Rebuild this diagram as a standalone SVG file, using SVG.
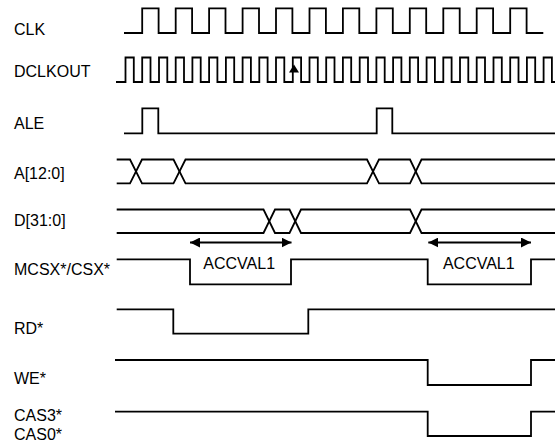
<svg xmlns="http://www.w3.org/2000/svg" width="555" height="446" viewBox="0 0 555 446">
<style>
.sig{fill:none;stroke:#000;stroke-width:1.8;stroke-linejoin:miter}
.lbl{font-family:"Liberation Sans",Arial,sans-serif;font-size:16px;fill:#000}
.dim{fill:none;stroke:#000;stroke-width:1.8}
</style>
<defs>
<marker id="ah" viewBox="0 0 10 10" refX="10" refY="5" markerWidth="10" markerHeight="10" markerUnits="userSpaceOnUse" orient="auto-start-reverse">
<path d="M0,0 L10,5 L0,10 Z" fill="#000"/>
</marker>
</defs>
<rect width="555" height="446" fill="#fff"/>
<g id="clk">
<text class="lbl" x="14" y="35">CLK</text>
<path class="sig" d="M124,33 H142.2 V8.3 H158.6 V33 H175.7 V8.3 H192.1 V33 H209.1 V8.3 H225.5 V33 H242.6 V8.3 H259 V33 H276 V8.3 H292.4 V33 H309.5 V8.3 H325.9 V33 H342.9 V8.3 H359.3 V33 H376.4 V8.3 H392.8 V33 H409.8 V8.3 H426.2 V33 H443.3 V8.3 H459.7 V33 H476.7 V8.3 H493.1 V33 H510.2 V8.3 H526.6 V33 H543.3"/>
</g>
<g id="dclkout">
<text class="lbl" x="14" y="77.3">DCLKOUT</text>
<path class="sig" d="M116,82 H125.5 V57.5 H133.8 V82 H142.2 V57.5 H150.5 V82 H159 V57.5 H167.3 V82 H175.7 V57.5 H184 V82 H192.4 V57.5 H200.7 V82 H209.1 V57.5 H217.4 V82 H225.9 V57.5 H234.2 V82 H242.6 V57.5 H250.9 V82 H259.3 V57.5 H267.6 V82 H276 V57.5 H284.3 V82 H292.8 V57.5 H301.1 V82 H309.5 V57.5 H317.8 V82 H326.2 V57.5 H334.5 V82 H342.9 V57.5 H351.2 V82 H359.7 V57.5 H368 V82 H376.4 V57.5 H384.7 V82 H393.1 V57.5 H401.4 V82 H409.8 V57.5 H418.1 V82 H426.6 V57.5 H434.9 V82 H443.3 V57.5 H451.6 V82 H460 V57.5 H468.3 V82 H476.7 V57.5 H485 V82 H493.5 V57.5 H501.8 V82 H510.2 V57.5 H518.5 V82 H526.9 V57.5 H535.2 V82 H543.6 V57.5 H551.9 V82 H556"/>
<path d="M294,64.5 L289,72.5 L299,72.5 Z" fill="#000"/>
</g>
<g id="ale">
<text class="lbl" x="14" y="129.3">ALE</text>
<path class="sig" d="M124,133.3 H142.3 V108.3 H158.3 V133.3 H376.7 V108.3 H392.3 V133.3 H556"/>
</g>
<g id="addr">
<text class="lbl" x="14" y="179">A[12:0]</text>
<path class="sig" d="M116.7,159.5 H130 L142,183.3 H173.5 L185.5,159.5 H367 L379,183.3 H410 L421.5,159.5 H556"/>
<path class="sig" d="M116.7,183.3 H130 L142,159.5 H173.5 L185.5,183.3 H367 L379,159.5 H410 L421.5,183.3 H556"/>
</g>
<g id="data">
<text class="lbl" x="14" y="226">D[31:0]</text>
<path class="sig" d="M116.7,209.5 H263.5 L275,233 H289.5 L301,209.5 H410 L421.5,233 H556"/>
<path class="sig" d="M116.7,233 H263.5 L275,209.5 H289.5 L301,233 H410 L421.5,209.5 H556"/>
</g>
<g id="mcsx">
<text class="lbl" x="14" y="275">MCSX*/CSX*</text>
<path class="sig" d="M116.7,259.3 H190 V284.3 H291 V259.3 H427.7 V284.3 H531 V259.3 H556"/>
</g>
<g id="rd">
<text class="lbl" x="14" y="333.5">RD*</text>
<path class="sig" d="M116.7,309.3 H173.3 V333.7 H308.3 V309.3 H556"/>
</g>
<g id="we">
<text class="lbl" x="14" y="384">WE*</text>
<path class="sig" d="M115,360 H427.7 V385 H531 V360 H556"/>
</g>
<g id="cas">
<text class="lbl" x="14" y="421">CAS3*</text>
<text class="lbl" x="14" y="439.5">CAS0*</text>
<path class="sig" d="M115,411.7 H427.7 V436 H531 V411.7 H556"/>
</g>
<g id="connectors">
<line class="dim" x1="190" y1="242.5" x2="291.5" y2="242.5" marker-start="url(#ah)" marker-end="url(#ah)"/>
<line class="dim" x1="428.3" y1="242.5" x2="531" y2="242.5" marker-start="url(#ah)" marker-end="url(#ah)"/>
<text class="lbl" x="239.2" y="268.5" text-anchor="middle">ACCVAL1</text>
<text class="lbl" x="478.8" y="269.3" text-anchor="middle">ACCVAL1</text>
</g>
</svg>
